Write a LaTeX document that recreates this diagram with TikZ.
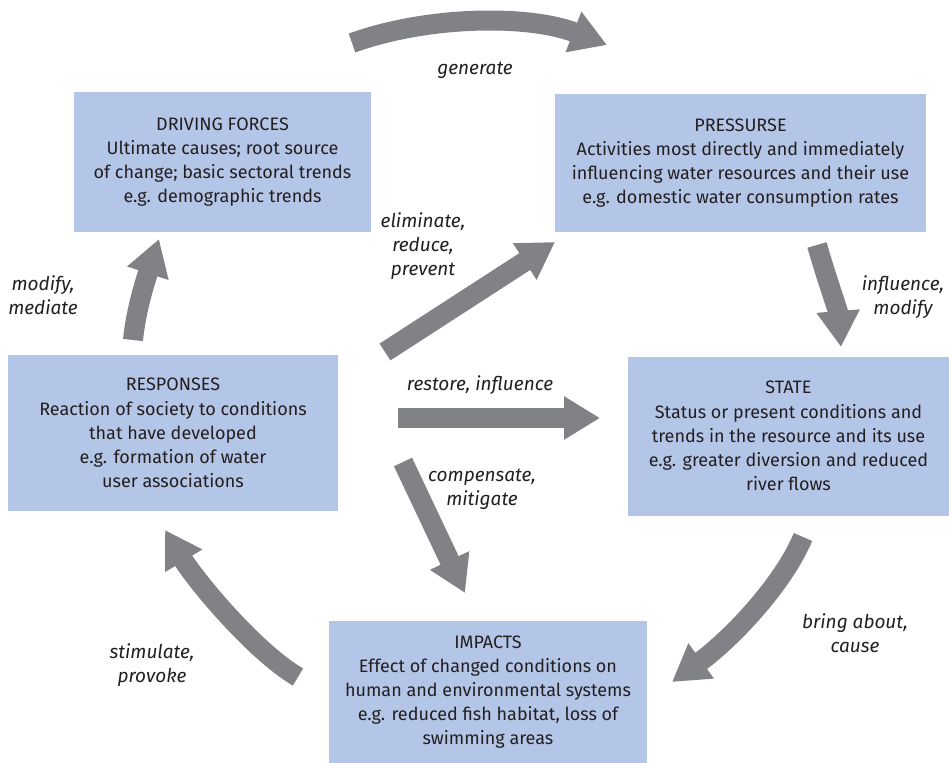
\documentclass[tikz,border=0pt]{standalone}
\usepackage{fontspec}
\setmainfont{Fira Sans}
\usetikzlibrary{arrows.meta}
\definecolor{boxblue}{HTML}{B4C6E7}
\definecolor{arrowgrey}{HTML}{818286}
\definecolor{textdark}{HTML}{231F20}
\tikzset{
	box/.style={fill=boxblue, text=textdark, align=center, inner sep=0pt, font=\fontsize{18}{24.2}\selectfont},
	fatarrow/.style={draw=arrowgrey, line width=20pt, -{Triangle[length=36pt,width=41pt]}},
	lbl/.style={text=textdark, align=center, font=\fontsize{19}{24.2}\selectfont\itshape}
}

\begin{document}
\begin{tikzpicture}[x=1pt,y=-1pt]
	\useasboundingbox (0,0) rectangle (949,762);
	% boxes
	\node[box, minimum width=297pt, minimum height=140pt] (drive) at (222.5,162)
	{DRIVING FORCES\\Ultimate causes; root source\\of change; basic sectoral trends\\e.g. demographic trends};
	\node[box, minimum width=371pt, minimum height=137pt] (press) at (740.5,163)
	{PRESSURSE\\Activities most directly and immediately\\influencing water resources and their use\\e.g. domestic water consumption rates};
	\node[box, minimum width=330pt, minimum height=156pt] (resp) at (173,433)
	{RESPONSES\\Reaction of society to conditions\\that have developed\\e.g. formation of water\\user associations};
	\node[box, minimum width=321pt, minimum height=159pt] (state) at (788.5,436)
	{STATE\\Status or present conditions and\\trends in the resource and its use\\e.g. greater diversion and reduced\\river flows};
	\node[box, minimum width=318pt, minimum height=142pt] (impact) at (488,692)
	{IMPACTS\\Effect of changed conditions on\\human and environmental systems\\e.g. reduced fish habitat, loss of\\swimming areas};
	% arrow ends
	\coordinate (gen-s) at (352,43);
	\coordinate (gen-e) at (607,45);
	\coordinate (infl-s) at (817,245);
	\coordinate (infl-e) at (841,347);
	\coordinate (bring-s) at (803,537);
	\coordinate (bring-e) at (672,682);
	\coordinate (stim-s) at (298,677);
	\coordinate (stim-e) at (165,530);
	\coordinate (mod-s) at (133,340);
	\coordinate (mod-e) at (159,239);
	\coordinate (elim-s) at (385,352);
	\coordinate (elim-e) at (555,242);
	\coordinate (rest-s) at (398,418);
	\coordinate (rest-e) at (600,418);
	\coordinate (comp-s) at (403,462);
	\coordinate (comp-e) at (465,593);
	% cycle
	\draw[fatarrow] (gen-s) .. controls (430,15) and (530,15) .. (gen-e);
	\draw[fatarrow] (infl-s) .. controls (827,280) and (838,310) .. (infl-e);
	\draw[fatarrow] (bring-s) .. controls (783,585) and (730,640) .. (bring-e);
	\draw[fatarrow] (stim-s) .. controls (255,652) and (196,581) .. (stim-e);
	\draw[fatarrow] (mod-s) .. controls (136,310) and (145,282) .. (mod-e);
	% responses
	\draw[fatarrow] (elim-s) -- (elim-e);
	\draw[fatarrow] (rest-s) -- (rest-e);
	\draw[fatarrow] (comp-s) -- (comp-e);
	% labels
	\node[lbl] (gen-l) at (475,70) {generate};
	\node[lbl] (infl-l) at (903,297) {influence,\\modify};
	\node[lbl] (bring-l) at (855,633) {bring about,\\cause};
	\node[lbl] (stim-l) at (152,665) {stimulate,\\provoke};
	\node[lbl] (mod-l) at (43,295) {modify,\\mediate};
	\node[lbl] (elim-l) at (423,246) {eliminate,\\reduce,\\prevent};
	\node[lbl] (rest-l) at (480,385) {restore, influence};
	\node[lbl] (comp-l) at (482,489) {compensate,\\mitigate};
\end{tikzpicture}
\end{document}
